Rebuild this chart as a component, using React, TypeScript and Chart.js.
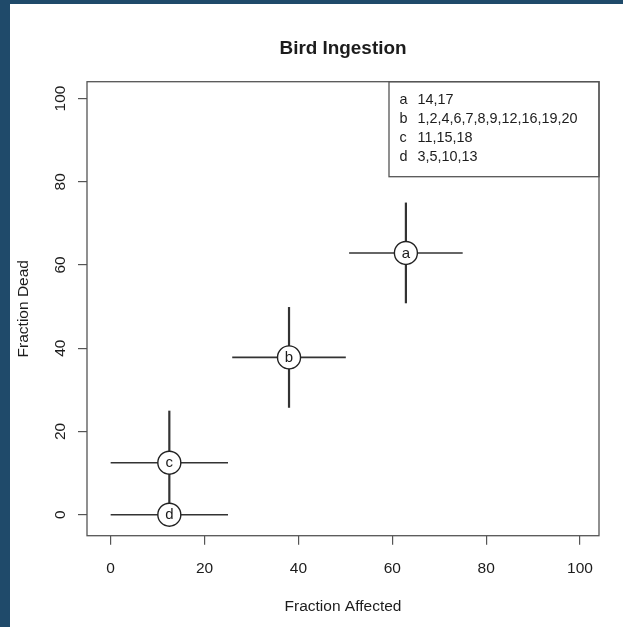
import React, { useEffect, useRef } from 'react';
import { Chart, registerables } from 'chart.js';

Chart.register(...registerables);

// ---- data ----
const groupLetters = ['a', 'b', 'c', 'd'];
const groupBirds = ['14,17', '1,2,4,6,7,8,9,12,16,19,20', '11,15,18', '3,5,10,13'];
const fractionAffected = [62.9, 38.0, 12.5, 12.5];
const fractionDead = [62.9, 37.8, 12.5, 0];
const affectedSpread = [12.1, 12.1, 12.5, 12.5];
const deadSpread = [12.1, 12.1, 12.5, 0];
const axisTicks = [0, 20, 40, 60, 80, 100];
const axisMin = -5.04;
const axisMax = 104.04;

const chartTitle = 'Bird Ingestion';
const xTitle = 'Fraction Affected';
const yTitle = 'Fraction Dead';

const FONT = '"Liberation Sans", Arial, Helvetica, sans-serif';
const TEXT = '#1c1c1c';

const rPlugin = {
  id: 'rStyle',
  beforeDraw(chart: any) {
    const ctx = chart.ctx;
    ctx.save();
    ctx.fillStyle = '#ffffff';
    ctx.fillRect(0, 0, chart.width, chart.height);
    ctx.fillStyle = '#1f4a6a';
    ctx.fillRect(0, 0, chart.width, 4);
    ctx.fillRect(0, 0, 10, chart.height);
    ctx.restore();
  },
  beforeDatasetsDraw(chart: any) {
    const ctx = chart.ctx;
    const xs = chart.scales.x;
    const ys = chart.scales.y;
    ctx.save();
    ctx.strokeStyle = '#333333';
    ctx.lineCap = 'butt';
    for (let i = 0; i < fractionAffected.length; i++) {
      const px = xs.getPixelForValue(fractionAffected[i]);
      const py = ys.getPixelForValue(fractionDead[i]);
      ctx.lineWidth = 1.6;
      ctx.beginPath();
      ctx.moveTo(xs.getPixelForValue(fractionAffected[i] - affectedSpread[i]), py);
      ctx.lineTo(xs.getPixelForValue(fractionAffected[i] + affectedSpread[i]), py);
      ctx.stroke();
      if (deadSpread[i] > 0) {
        ctx.lineWidth = 2.2;
        ctx.beginPath();
        ctx.moveTo(px, ys.getPixelForValue(fractionDead[i] - deadSpread[i]));
        ctx.lineTo(px, ys.getPixelForValue(fractionDead[i] + deadSpread[i]));
        ctx.stroke();
      }
    }
    ctx.restore();
  },
  afterDatasetsDraw(chart: any) {
    const ctx = chart.ctx;
    const meta = chart.getDatasetMeta(0);
    ctx.save();
    ctx.fillStyle = TEXT;
    ctx.font = `15px ${FONT}`;
    ctx.textAlign = 'center';
    ctx.textBaseline = 'middle';
    meta.data.forEach((pt: any, i: number) => {
      ctx.fillText(groupLetters[i], pt.x, pt.y + 0.5);
    });
    ctx.restore();
  },
  afterDraw(chart: any) {
    const ctx = chart.ctx;
    const area = chart.chartArea;
    const ys = chart.scales.y;
    ctx.save();
    // box
    ctx.strokeStyle = '#555555';
    ctx.lineWidth = 1.3;
    ctx.strokeRect(area.left, area.top, area.right - area.left, area.bottom - area.top);

    // y tick labels (rotated, parallel to axis)
    ctx.fillStyle = TEXT;
    ctx.font = `15.5px ${FONT}`;
    ctx.textAlign = 'center';
    ctx.textBaseline = 'middle';
    ys.ticks.forEach((t: any) => {
      const py = ys.getPixelForValue(t.value);
      ctx.save();
      ctx.translate(60.5, py);
      ctx.rotate(-Math.PI / 2);
      ctx.fillText(String(t.value), 0, 0);
      ctx.restore();
    });

    // axis titles
    ctx.fillText(xTitle, (area.left + area.right) / 2, 607);
    ctx.save();
    ctx.translate(23.5, (area.top + area.bottom) / 2);
    ctx.rotate(-Math.PI / 2);
    ctx.fillText(yTitle, 0, 0);
    ctx.restore();

    // main title
    ctx.font = `bold 18.9px ${FONT}`;
    ctx.textBaseline = 'alphabetic';
    ctx.fillText(chartTitle, (area.left + area.right) / 2, 54);

    // legend
    const lw = 210;
    const lh = 95;
    const lx = area.right - lw;
    const ly = area.top;
    ctx.strokeStyle = '#555555';
    ctx.lineWidth = 1.3;
    ctx.strokeRect(lx, ly, lw, lh);
    ctx.font = `14.4px ${FONT}`;
    ctx.textAlign = 'left';
    ctx.textBaseline = 'middle';
    ctx.fillStyle = TEXT;
    groupLetters.forEach((g, i) => {
      const rowY = ly + 18.8 + i * 18.9;
      ctx.fillText(g, lx + 10.5, rowY);
      ctx.fillText(groupBirds[i], lx + 28.5, rowY);
    });
    ctx.restore();
  },
};

export default function App() {
  const ref = useRef<HTMLCanvasElement | null>(null);
  useEffect(() => {
    if (!ref.current) return;
    const setTicks = (scale: any) => {
      scale.ticks = axisTicks.map((v) => ({ value: v }));
    };
    const chart = new Chart(ref.current, {
      type: 'scatter',
      data: {
        datasets: [
          {
            label: 'groups',
            data: fractionAffected.map((x, i) => ({ x, y: fractionDead[i] })),
            pointRadius: 11.5,
            pointHoverRadius: 11.5,
            pointBackgroundColor: '#ffffff',
            pointBorderColor: '#222222',
            pointBorderWidth: 1.4,
            showLine: false,
          },
        ],
      },
      options: {
        responsive: false,
        animation: false,
        devicePixelRatio: 1,
        events: [],
        layout: { padding: { top: 81.7, right: 24, left: 0, bottom: 0 } },
        plugins: {
          legend: { display: false },
          tooltip: { enabled: false },
          title: { display: false },
        },
        scales: {
          x: {
            type: 'linear',
            position: 'bottom',
            min: axisMin,
            max: axisMax,
            afterBuildTicks: setTicks,
            afterFit: (s: any) => {
              s.height = 91.3;
            },
            grid: {
              drawOnChartArea: false,
              drawTicks: true,
              tickLength: 9,
              color: '#555555',
              lineWidth: 1.2,
            },
            border: { display: false },
            ticks: {
              font: { family: FONT, size: 15.5 },
              color: TEXT,
              padding: 14.5,
              maxRotation: 0,
              minRotation: 0,
            },
          },
          y: {
            type: 'linear',
            position: 'left',
            min: axisMin,
            max: axisMax,
            afterBuildTicks: setTicks,
            afterFit: (s: any) => {
              s.width = 87;
            },
            grid: {
              drawOnChartArea: false,
              drawTicks: true,
              tickLength: 9,
              color: '#555555',
              lineWidth: 1.2,
            },
            border: { display: false },
            ticks: { display: false },
          },
        },
      },
      plugins: [rPlugin],
    });
    return () => chart.destroy();
  }, []);
  return (
    <canvas
      ref={ref}
      width={623}
      height={627}
      style={{ position: 'fixed', left: 0, top: 0, width: 623, height: 627 }}
    />
  );
}
